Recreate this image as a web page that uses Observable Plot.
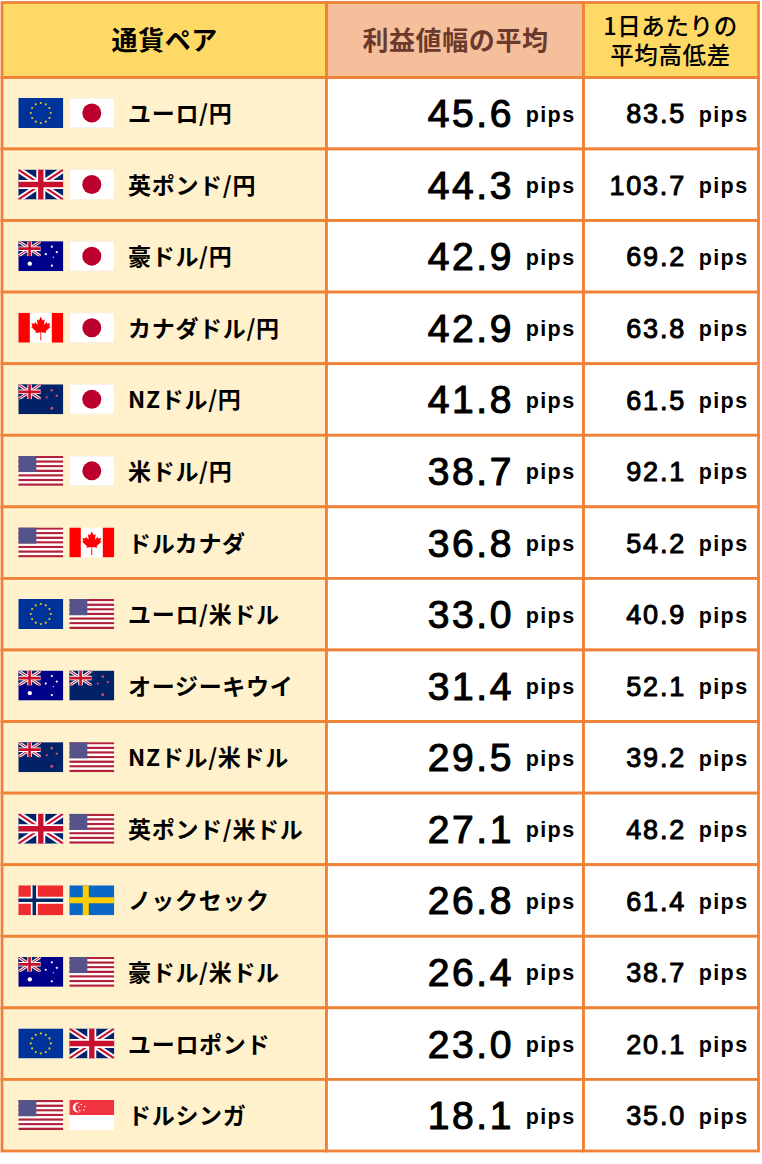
<!DOCTYPE html>
<html lang="ja">
<head>
<meta charset="utf-8">
<script src="https://cdn.jsdelivr.net/npm/d3@7"></script>
<script src="https://cdn.jsdelivr.net/npm/@observablehq/plot@0.6"></script>
<style>
html,body{margin:0;padding:0;background:#fff}
svg{display:block}
.pair text{letter-spacing:.7px}
.big text{letter-spacing:2.6px}
.mid text{letter-spacing:1.8px}
.unit text{letter-spacing:1.4px}
.head text{letter-spacing:.6px}
</style>
</head>
<body>
<div id="chart"></div>
<script>
const pairs = ["ユーロ/円","英ポンド/円","豪ドル/円","カナダドル/円","NZドル/円","米ドル/円","ドルカナダ","ユーロ/米ドル","オージーキウイ","NZドル/米ドル","英ポンド/米ドル","ノックセック","豪ドル/米ドル","ユーロポンド","ドルシンガ"];
const profit = ["45.6","44.3","42.9","42.9","41.8","38.7","36.8","33.0","31.4","29.5","27.1","26.8","26.4","23.0","18.1"];
const range = ["83.5","103.7","69.2","63.8","61.5","92.1","54.2","40.9","52.1","39.2","48.2","61.4","38.7","20.1","35.0"];
const flagA = ["eu","gb","au","ca","nz","us","us","eu","au","nz","gb","no","au","eu","us"];
const flagB = ["jp","jp","jp","jp","jp","jp","ca","us","nz","us","us","se","us","gb","sg"];
const headers = ["通貨ペア","利益値幅の平均","1日あたりの\n平均高低差"];
const unit = "pips";

const ORANGE="#ef8236", GOLD="#ffd966", PEACH="#f6bf9c", CREAM="#fff1cc";

const ukJack = (w,h)=>`<rect width="${w}" height="${h}" fill="#012169"/>
<path d="M0 0L${w} ${h}M${w} 0L0 ${h}" stroke="#fff" stroke-width="${h*.2}"/>
<path d="M0 0L${w} ${h}M${w} 0L0 ${h}" stroke="#c8102e" stroke-width="${h*.07}"/>
<path d="M${w/2} 0V${h}M0 ${h/2}H${w}" stroke="#fff" stroke-width="${h*.3}"/>
<path d="M${w/2} 0V${h}M0 ${h/2}H${w}" stroke="#c8102e" stroke-width="${h*.18}"/>`;
const star=(x,y,r,f)=>`<circle cx="${x}" cy="${y}" r="${r}" fill="${f}"/>`;
const euStars=[...Array(12)].map((_,i)=>star(22.5+10*Math.sin(i*Math.PI/6),15-10*Math.cos(i*Math.PI/6),1.1,"#e8c51f")).join("");
const usStripes=[...Array(13)].map((_,i)=>`<rect y="${i*30/13}" width="45" height="${30/13+.05}" fill="${i%2?"#fff":"#b2223f"}"/>`).join("");
const maple=`<path d="M22.5 4l1.9 3.8 2-1-.8 5.4 2.6-2.8.7 1.6 3-.5-1 3.2 1.3.7-4.8 4.2.5 1.8-5 -.8.1 8h-1l.1-8-5 .8.5-1.8-4.8-4.2 1.3-.7-1-3.2 3 .5.7-1.6 2.6 2.8-.8-5.4 2 1z" fill="#f00"/>`;
const flags={
 eu:`<rect width="45" height="30" fill="#003399"/>${euStars}`,
 jp:`<rect width="45" height="30" fill="#fff"/><rect x=".25" y=".25" width="44.5" height="29.5" fill="none" stroke="#e6e6e6" stroke-width=".5"/><circle cx="22.5" cy="15" r="9.5" fill="#bc002d"/>`,
 gb:ukJack(45,30),
 au:`<rect width="45" height="30" fill="#00008b"/><svg width="22.5" height="15" viewBox="0 0 45 30">${ukJack(45,30)}</svg>${star(11.5,22.5,2.2,"#fff")}${star(33.5,24.5,1.1,"#fff")}${star(33.5,5.5,1.1,"#fff")}${star(27.5,13,1.1,"#fff")}${star(38.5,11,1.1,"#fff")}${star(35,16,.7,"#fff")}`,
 ca:`<rect width="45" height="30" fill="#fff"/><rect width="11.5" height="30" fill="#f00"/><rect x="33.5" width="11.5" height="30" fill="#f00"/>${maple}`,
 nz:`<rect width="45" height="30" fill="#012169"/><svg width="22.5" height="15" viewBox="0 0 45 30">${ukJack(45,30)}</svg>${star(33.5,6,1.3,"#c8506a")}${star(33.5,24,1.5,"#c8506a")}${star(28.5,13,1.1,"#c8506a")}${star(38.5,11.5,1.2,"#c8506a")}`,
 us:`${usStripes}<rect width="18" height="16.2" fill="#54548a"/>`,
 no:`<rect width="45" height="30" fill="#ef2b2d"/><path d="M16 0V30M0 15H45" stroke="#fff" stroke-width="7"/><path d="M16 0V30M0 15H45" stroke="#002868" stroke-width="3.6"/>`,
 se:`<rect width="45" height="30" fill="#0a66c4"/><path d="M16.5 0V30M0 15H45" stroke="#fecc00" stroke-width="6"/>`,
 sg:`<rect width="45" height="30" fill="#fff"/><rect width="45" height="15" fill="#ef3340"/><circle cx="8.5" cy="7.5" r="5" fill="#fff"/><circle cx="10.5" cy="7.5" r="4.6" fill="#ef3340"/>${star(12,4.5,.8,"#fff")}${star(15.5,6.5,.8,"#fff")}${star(14.5,10,.8,"#fff")}${star(10.5,10.5,.8,"#fff")}${star(9.5,7,.8,"#fff")}`
};
const flagSrc=k=>"data:image/svg+xml;charset=utf-8,"+encodeURIComponent(`<svg xmlns="http://www.w3.org/2000/svg" width="45" height="30" viewBox="0 0 45 30">${flags[k]}</svg>`);

const rows = pairs.map((pair,i)=>({pair,i,profit:profit[i],range:range[i],a:flagA[i],b:flagB[i]}));
const HEAD = -1.0466;   // header height in row units
const cols = [0,1,2];
const cells = rows.flatMap(r=>cols.map(c=>({c,i:r.i,fill:c===0?CREAM:"#fff"})));
const headCells = cols.map(c=>({c,label:headers[c],fill:c===1?PEACH:GOLD}));

const JP='"Noto Sans CJK JP","Noto Sans",sans-serif';
const AR='"Liberation Sans",Arial,sans-serif';

const plot = Plot.plot({
  width:762,height:1164,margin:0,
  style:{background:"#fff"},
  x:{type:"linear",domain:[0,1,2,3],range:[2,326.5,583.5,758.5],axis:null},
  y:{type:"linear",domain:[HEAD,15],range:[2.5,1151],axis:null},
  marks:[
    Plot.rect(cells,{x1:"c",x2:d=>d.c+1,y1:"i",y2:d=>d.i+1,fill:"fill",stroke:ORANGE,strokeWidth:2.8}),
    Plot.rect(headCells,{x1:"c",x2:d=>d.c+1,y1:HEAD,y2:0,fill:"fill",stroke:ORANGE,strokeWidth:2.8}),
    Plot.text(headCells.filter(d=>d.c===0),{x:.5,y:HEAD/2,text:"label",fill:"#000",fontFamily:JP,fontWeight:700,fontSize:26,className:"head",dx:0,dy:1}),
    Plot.text(headCells.filter(d=>d.c===1),{x:1.5,y:HEAD/2,text:"label",fill:"#6b3a2c",fontFamily:JP,fontWeight:700,fontSize:26,className:"head",dx:0,dy:1}),
    Plot.text(headCells.filter(d=>d.c===2),{x:2.5,y:HEAD/2,text:"label",fill:"#000",fontFamily:JP,fontWeight:500,fontSize:23.5,lineHeight:1.22,className:"head",dx:-1,dy:0}),
    Plot.image(rows,{x:0,y:d=>d.i+.5,src:d=>flagSrc(d.a),width:45,height:30,dx:38.3,dy:-0.7,preserveAspectRatio:"none"}),
    Plot.image(rows,{x:0,y:d=>d.i+.5,src:d=>flagSrc(d.b),width:45,height:30,dx:89.3,dy:-0.7,preserveAspectRatio:"none"}),
    Plot.text(rows,{x:0,y:d=>d.i+.5,text:"pair",textAnchor:"start",dx:125.5,dy:1,fill:"#000",fontFamily:JP,fontWeight:700,fontSize:23,className:"pair"}),
    Plot.text(rows,{x:2,y:d=>d.i+.5,text:"profit",textAnchor:"end",dx:-70,dy:1,fill:"#000",stroke:"#000",strokeWidth:1.1,fontFamily:AR,fontWeight:400,fontSize:39,className:"big"}),
    Plot.text(rows,{x:2,y:d=>d.i+.5,text:()=>unit,textAnchor:"end",dx:-8.5,dy:1,fill:"#000",fontFamily:AR,fontWeight:700,fontSize:21.5,className:"unit"}),
    Plot.text(rows,{x:3,y:d=>d.i+.5,text:"range",textAnchor:"end",dx:-73,dy:1,fill:"#000",stroke:"#000",strokeWidth:1,fontFamily:AR,fontWeight:400,fontSize:27,className:"mid"}),
    Plot.text(rows,{x:3,y:d=>d.i+.5,text:()=>unit,textAnchor:"end",dx:-10.5,dy:1,fill:"#000",fontFamily:AR,fontWeight:700,fontSize:21.5,className:"unit"})
  ]
});
document.getElementById("chart").append(plot);
</script>
</body>
</html>
